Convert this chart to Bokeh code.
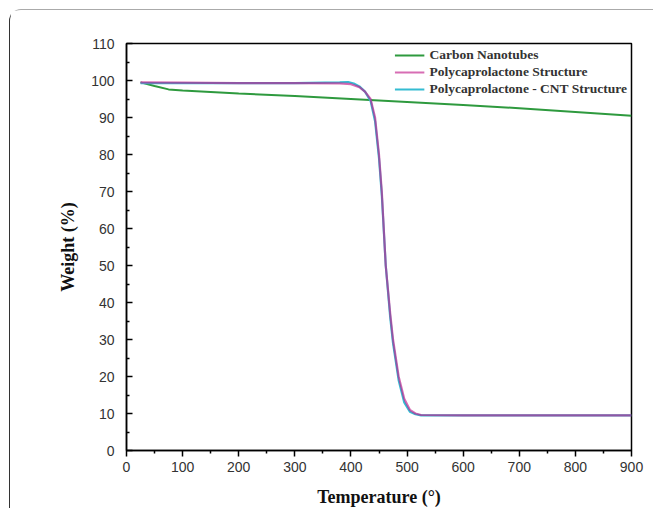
from bokeh.plotting import figure
from bokeh.embed import file_html
from bokeh.resources import INLINE
from bokeh.models import Range1d, FixedTicker, Legend, LegendItem

# Data
temp_cnt = [25, 50, 75, 100, 200, 300, 400, 500, 600, 700, 800, 900]
weight_cnt = [99.5, 98.5, 97.6, 97.3, 96.5, 95.8, 95.0, 94.2, 93.4, 92.5, 91.5, 90.5]

temp_pcl = [25, 100, 200, 300, 380, 400, 415, 425, 435, 443, 450, 455, 462, 470, 475,
            485, 495, 505, 515, 525, 600, 700, 800, 900]
weight_pcl = [99.5, 99.4, 99.3, 99.3, 99.2, 99.0, 98.2, 97.0, 95.0, 90.0, 80.0, 70.0, 50.0,
              37.0, 30.0, 20.0, 14.0, 11.0, 10.0, 9.6, 9.5, 9.5, 9.5, 9.5]

temp_pclcnt = [25, 100, 200, 300, 380, 395, 405, 415, 425, 435, 443, 450, 455, 462, 470,
               475, 485, 495, 505, 515, 525, 600, 700, 800, 900]
weight_pclcnt = [99.3, 99.3, 99.3, 99.3, 99.5, 99.6, 99.2, 98.4, 97.0, 94.5, 89.0, 79.0, 69.0,
                 50.0, 36.0, 29.0, 19.0, 13.0, 10.5, 9.8, 9.5, 9.5, 9.5, 9.5, 9.5]

x_ticks = [0, 100, 200, 300, 400, 500, 600, 700, 800, 900]
y_ticks = [0, 10, 20, 30, 40, 50, 60, 70, 80, 90, 100, 110]

p = figure(width=644, height=499, output_backend="svg", toolbar_location=None,
           x_range=Range1d(0, 900), y_range=Range1d(0, 110),
           min_border_left=116, min_border_right=23, min_border_top=33, min_border_bottom=45,
           background_fill_color="white", border_fill_color="white",
           styles={"border-left": "1.5px solid #333", "border-top": "1.5px solid #aaa",
                   "border-top-left-radius": "12px", "box-sizing": "border-box",
                   "margin-left": "9px", "margin-top": "9px"})

p.grid.visible = False
p.outline_line_color = "black"
p.outline_line_width = 1.5

r_cnt = p.line(temp_cnt, weight_cnt, line_color="#2e9a3e", line_width=2)
r_cyan = p.line(temp_pclcnt, weight_pclcnt, line_color="#34bcd2", line_width=2.2)
r_pcl = p.line(temp_pcl, weight_pcl, line_color="#c21e8c", line_width=2.2, line_alpha=0.65)

for ax in (p.xaxis[0], p.yaxis[0]):
    ax.axis_line_color = "black"
    ax.axis_line_width = 1.5
    ax.major_tick_line_color = "black"
    ax.minor_tick_line_color = "black"
    ax.major_tick_line_width = 1.5
    ax.minor_tick_line_width = 1.5
    ax.major_label_text_font = "Liberation Sans"
    ax.major_label_text_font_size = "14px"
    ax.major_label_text_color = "#333333"
    ax.axis_label_text_font = "Liberation Serif"
    ax.axis_label_text_font_style = "bold"
    ax.axis_label_text_font_size = "18px"
    ax.axis_label_text_color = "#111111"

p.xaxis.ticker = FixedTicker(ticks=x_ticks, minor_ticks=[50 + 100 * i for i in range(9)])
p.yaxis.ticker = FixedTicker(ticks=y_ticks, minor_ticks=[5 + 10 * i for i in range(11)])

p.xaxis.major_tick_out = 6
p.xaxis.major_tick_in = 0
p.xaxis.minor_tick_out = 3
p.xaxis.minor_tick_in = 0
p.xaxis.major_label_standoff = 5
p.xaxis.axis_label = "Temperature (°)"
p.xaxis.axis_label_standoff = 12

p.yaxis.major_tick_in = 6
p.yaxis.major_tick_out = 0
p.yaxis.minor_tick_in = 3
p.yaxis.minor_tick_out = 0
p.yaxis.major_label_standoff = 12
p.yaxis.axis_label = "Weight (%)"
p.yaxis.axis_label_standoff = 10

legend = Legend(items=[
    LegendItem(label="Carbon Nanotubes", renderers=[r_cnt]),
    LegendItem(label="Polycaprolactone Structure", renderers=[r_pcl]),
    LegendItem(label="Polycaprolactone - CNT Structure", renderers=[r_cyan]),
], location="top_right")
legend.border_line_color = None
legend.background_fill_alpha = 0
legend.label_text_font = "Liberation Serif"
legend.label_text_font_style = "bold"
legend.label_text_font_size = "13.5px"
legend.label_text_color = "#333333"
legend.glyph_width = 30
legend.glyph_height = 16
legend.label_height = 16
legend.label_standoff = 5
legend.spacing = 1
legend.padding = 4
legend.margin = 4
p.add_layout(legend)

open("out.html", "w").write(file_html(p, INLINE))
